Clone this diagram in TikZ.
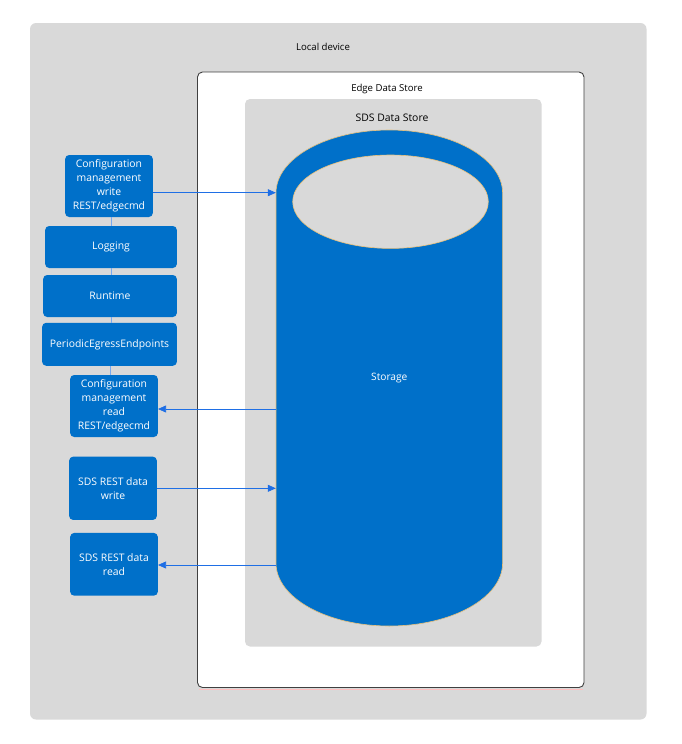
\documentclass[tikz,border=0pt]{standalone}
\usepackage{fontspec}
\setmainfont{Open Sans}
\usetikzlibrary{arrows.meta}

\definecolor{devgray}{HTML}{D9D9D9}
\definecolor{boxblue}{HTML}{0070C9}
\definecolor{linkblue}{HTML}{1F6FE5}
\definecolor{rimtan}{HTML}{E8C07A}

\begin{document}
\begin{tikzpicture}[
            x = 1pt, y = -1pt,
            every node/.style={font=\fontsize{9.6}{14}\selectfont, align=center, inner sep=0pt},
            box/.style={fill=boxblue, text=white, rounded corners=4pt, font=\fontsize{10.4}{14}\selectfont},
            tie/.style={draw=linkblue!60, line width = .6pt},
            link/.style={draw=linkblue, line width = .7pt, -{Triangle[length=8pt, width=7pt]}},
            ]
        \useasboundingbox (0,0) rectangle (682,744);
        % frames
        \fill[devgray, rounded corners=6pt] (30,23) rectangle (646.5,719.5);
        \fill[red!25] (198.5,689) rectangle (583,689.8);
        \filldraw[fill=white, draw=black!75, line width=.9pt, rounded corners=5pt] (197.5,72) rectangle (584,687.5);
        \fill[devgray, rounded corners=5pt] (245,99) rectangle (541.5,646.5);
        \node (local) at (323,47) {Local device};
        \node (edge) at (387,89) {Edge Data Store};
        \node[font=\fontsize{10.4}{14}\selectfont] (sds) at (392,118) {SDS Data Store};
        % storage cylinder
        \filldraw[fill=boxblue, draw=rimtan, line width=.6pt] (276,193) arc[start angle=180, end angle=360, x radius=113.3, y radius=63]
            -- (502.6,563) arc[start angle=0, end angle=180, x radius=113.3, y radius=63] -- cycle;
        \filldraw[fill=devgray, draw=rimtan, line width=.6pt] (390.5,201.7) ellipse[x radius=97.8, y radius=46.7];
        \node[text=white, font=\fontsize{10.2}{14}\selectfont, minimum width=226.6pt, minimum height=496pt] (storage) at (389.3,378) {Storage};
        % services
        \node[box, minimum width=87.7pt, minimum height=62pt] (cfgw) at (109,186) {Configuration\\management\\write\\REST/edgecmd};
        \node[box, minimum width=131.7pt, minimum height=42pt] (log) at (111,247) {Logging};
        \node[box, minimum width=133.7pt, minimum height=42pt] (run) at (110,296) {Runtime};
        \node[box, minimum width=134.7pt, minimum height=43pt] (peg) at (109.5,344.3) {PeriodicEgressEndpoints};
        \node[box, minimum width=87.7pt, minimum height=62pt] (cfgr) at (114,406) {Configuration\\management\\read\\REST/edgecmd};
        \node[box, minimum width=87.7pt, minimum height=63.3pt] (sdsw) at (113,488.3) {SDS REST data\\write};
        \node[box, minimum width=87.7pt, minimum height=62.7pt] (sdsr) at (114,564.3) {SDS REST data\\read};
        \draw[tie] (cfgw.south -| 111,0) -- (log.north -| 111,0);
        \draw[tie] (log.south -| 111,0) -- (run.north -| 111,0);
        \draw[tie] (run.south -| 111,0) -- (peg.north -| 111,0);
        \draw[tie] (peg.south -| 110,0) -- (cfgr.north -| 110,0);
        % data flow
        \draw[link] (cfgw.east |- 0,192.7) -- (storage.west |- 0,192.7);
        \draw[link] (storage.west |- 0,409) -- (cfgr.east |- 0,409);
        \draw[link] (sdsw.east) -- (storage.west |- sdsw.east);
        \draw[link] (storage.west |- 0,565) -- (sdsr.east |- 0,565);
\end{tikzpicture}
\end{document}
